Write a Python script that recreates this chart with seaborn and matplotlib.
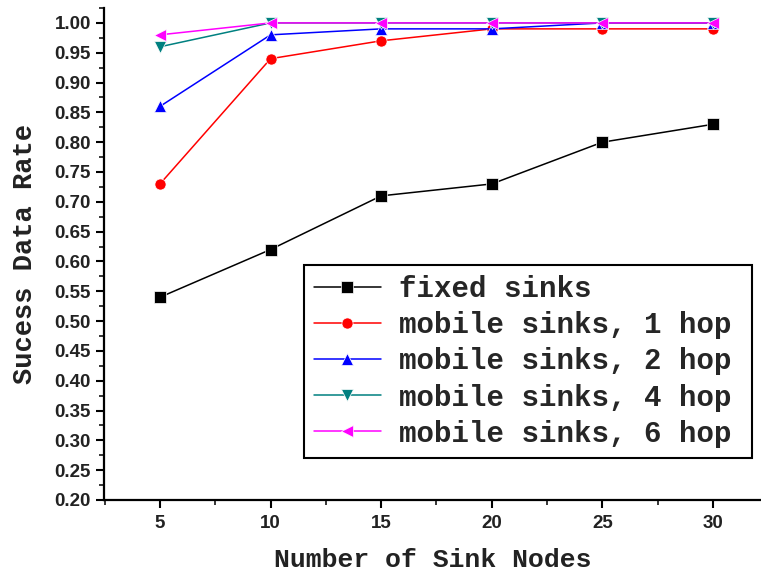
import numpy as np
import pandas as pd
import matplotlib
matplotlib.use("Agg")
import matplotlib.pyplot as plt
import seaborn as sns
from matplotlib.ticker import MultipleLocator

sink_nodes = [5, 10, 15, 20, 25, 30]
fixed_sinks = [0.54, 0.62, 0.71, 0.73, 0.80, 0.83]
mobile_1hop = [0.73, 0.94, 0.97, 0.99, 0.99, 0.99]
mobile_2hop = [0.86, 0.98, 0.99, 0.99, 1.00, 1.00]
mobile_4hop = [0.96, 1.00, 1.00, 1.00, 1.00, 1.00]
mobile_6hop = [0.98, 1.00, 1.00, 1.00, 1.00, 1.00]
series_names = ["fixed sinks", "mobile sinks, 1 hop", "mobile sinks, 2 hop",
                "mobile sinks, 4 hop", "mobile sinks, 6 hop"]
y_ticks = [0.20, 0.25, 0.30, 0.35, 0.40, 0.45, 0.50, 0.55, 0.60, 0.65, 0.70,
           0.75, 0.80, 0.85, 0.90, 0.95, 1.00]
x_ticks = [5, 10, 15, 20, 25, 30]

series_vals = [fixed_sinks, mobile_1hop, mobile_2hop, mobile_4hop, mobile_6hop]
rows = []
for name, vals in zip(series_names, series_vals):
    for x, v in zip(sink_nodes, vals):
        rows.append({"x": x, "y": v, "series": name})
df = pd.DataFrame(rows)

sns.set_theme(style="ticks")
plt.rcParams['font.family'] = ['Liberation Sans', 'DejaVu Sans']

colors = ["#000000", "#ff0000", "#0000ff", "#008080", "#ff00ff"]
markers = ["s", "o", "^", "v", "<"]

fig = plt.figure(figsize=(7.61, 5.72), dpi=100)
ax = fig.add_axes([104/761, 72/572, 1 - 104/761, (500 - 8)/572])

sns.lineplot(data=df, x="x", y="y", hue="series", style="series",
             hue_order=series_names, style_order=series_names,
             palette=colors, markers=markers, dashes=False,
             markersize=8, linewidth=1.1, markeredgewidth=0.5,
             ax=ax)

ax.set_xlim(2.47, 32.17)
ax.set_ylim(0.2, 1.025)
ax.set_xticks(x_ticks)
ax.set_yticks(y_ticks)
ax.set_yticklabels([f"{t:.2f}" for t in y_ticks])
ax.xaxis.set_minor_locator(MultipleLocator(2.5))
ax.yaxis.set_minor_locator(MultipleLocator(0.025))
ax.tick_params(axis='both', which='major', direction='out', length=6, width=1.5,
               labelsize=13.5, colors='black')
ax.tick_params(axis='x', which='major', pad=5)
ax.tick_params(axis='both', which='minor', direction='out', length=3.5, width=1.3)
for lab in ax.get_xticklabels() + ax.get_yticklabels():
    lab.set_fontweight('bold')
    lab.set_color('#222222')

for s in ['top', 'right']:
    ax.spines[s].set_visible(False)
for s in ['left', 'bottom']:
    ax.spines[s].set_linewidth(1.6)
    ax.spines[s].set_color('black')

mono = ['Liberation Mono', 'DejaVu Sans Mono']
ax.set_xlabel("Number of Sink Nodes", family=mono, fontsize=19, fontweight='bold',
              labelpad=11, color='#222222')
ax.set_ylabel("Sucess Data Rate", family=mono, fontsize=19.5, fontweight='bold',
              labelpad=12, color='#222222')

handles, labels = ax.get_legend_handles_labels()
leg = ax.legend(handles, labels, loc='upper left',
                bbox_to_anchor=(0.304, 0.098, 0.682, 0.38), mode='expand',
                prop={'family': mono, 'size': 21, 'weight': 'bold'},
                frameon=True, fancybox=False, edgecolor='black', framealpha=1,
                handlelength=2.3, handletextpad=0.6, labelspacing=0.28,
                borderpad=0.35, borderaxespad=0)
leg.get_frame().set_linewidth(1.5)

fig.savefig("out.png", dpi=100)
